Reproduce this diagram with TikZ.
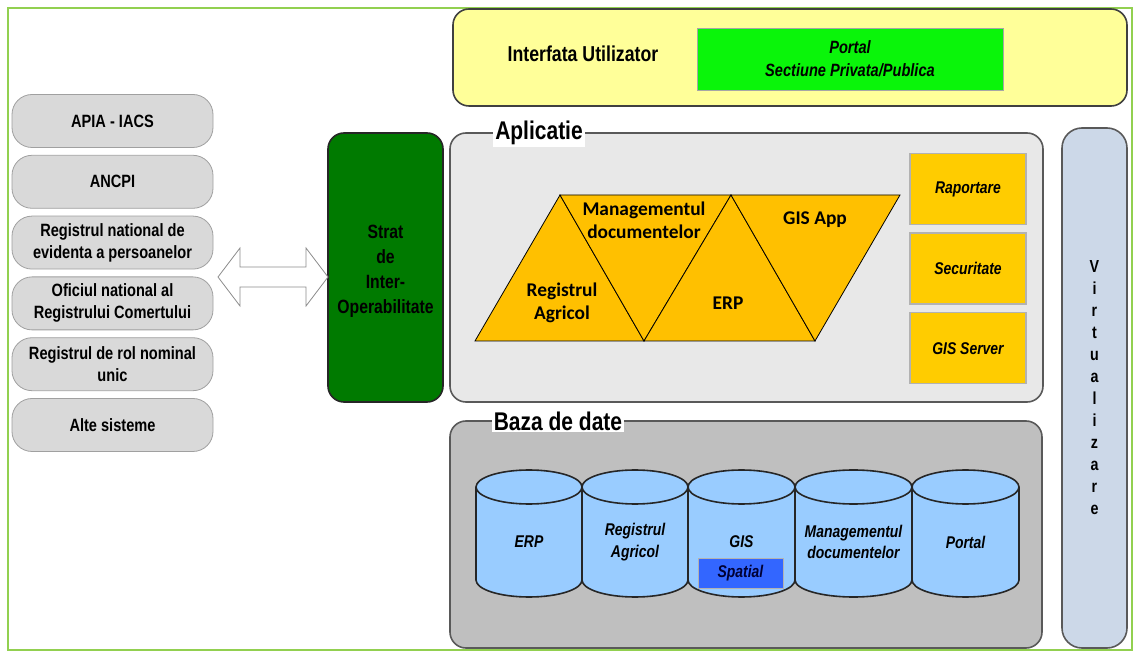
\documentclass[tikz,border=0pt]{standalone}
\usepackage{fontspec}
\setsansfont[FakeStretch=0.82]{Liberation Sans}
\newfontfamily\trifont{Carlito}
\usetikzlibrary{calc, positioning}

\definecolor{framegreen}{RGB}{146,208,80}
\definecolor{pillgray}{RGB}{217,217,217}
\definecolor{pillline}{RGB}{160,160,160}
\definecolor{uiyellow}{RGB}{255,255,153}
\definecolor{portalgreen}{RGB}{10,245,10}
\definecolor{appgray}{RGB}{232,232,232}
\definecolor{dbgray}{RGB}{191,191,191}
\definecolor{stratgreen}{RGB}{0,122,0}
\definecolor{triorange}{RGB}{255,192,0}
\definecolor{svcyellow}{RGB}{255,204,0}
\definecolor{virtblue}{RGB}{204,216,232}
\definecolor{cylblue}{RGB}{153,204,255}
\definecolor{spatialblue}{RGB}{51,102,255}
\definecolor{boxline}{RGB}{89,89,89}

\begin{document}
\begin{tikzpicture}[
    x=0.5pt, y=-0.5pt,
    font=\sffamily\bfseries,
    node distance=3.5pt,
    pill/.style={draw=pillline, fill=pillgray, rounded corners=10pt,
        minimum width=100.5pt, minimum height=26.5pt, inner sep=1pt,
        align=center, font=\sffamily\bfseries\fontsize{8.9}{11}\selectfont},
    layer/.style={draw=boxline, thick, rounded corners=8pt, inner sep=0pt},
    svcbox/.style={draw=black!30, thick, fill=svcyellow, minimum width=58pt,
        minimum height=35.5pt, inner sep=1pt,
        font=\sffamily\bfseries\itshape\fontsize{8.5}{10.5}\selectfont},
    tri/.style={draw=black, fill=triorange, line join=miter},
    tritext/.style={align=center, inner sep=0pt,
        font=\trifont\bfseries\fontsize{9.7}{11.5}\selectfont},
    drum/.style={draw=black!85, fill=cylblue, thick},
    cyltext/.style={align=center, inner sep=0pt,
        font=\sffamily\bfseries\itshape\fontsize{8.5}{10.9}\selectfont},
    caption/.style={fill=white, inner sep=1pt,
        font=\sffamily\bfseries\fontsize{12.8}{14}\selectfont},
    linkarrow/.style={draw=black!45, fill=white, line join=miter}
]
\useasboundingbox (0,0) rectangle (1137,652);

% outer frame
\draw[framegreen, line width=1.2pt] (8,8) rectangle (1132,650);

% external systems
\node[pill] (apia) at (112.5,121) {APIA - IACS};
\node[pill] (ancpi) [below=of apia] {ANCPI};
\node[pill] (rnep) [below=of ancpi] {Registrul national de\\evidenta a persoanelor};
\node[pill] (onrc) [below=of rnep] {Oficiul national al\\Registrului Comertului};
\node[pill] (rnu) [below=of onrc] {Registrul de rol nominal\\unic};
\node[pill] (alte) [below=of rnu] {Alte sisteme};

% interoperability layer
\node[layer, fill=stratgreen, draw=black!85, minimum width=57.5pt,
      minimum height=134.5pt] (strat) at (385.5,267.5) {};
\node[align=center, inner sep=0pt,
      font=\sffamily\bfseries\fontsize{9.6}{12.5}\selectfont]
      (strattext) at (385.5,271) {Strat\\de\\Inter-\\Operabilitate};

% double arrow between systems and layer
\coordinate (lk) at (273,277);
\draw[linkarrow] ($(lk)+(-55,0)$) -- ++(22,-29) -- ++(0,19) -- ++(66,0)
    -- ++(0,-19) -- ++(22,29) -- ++(-22,29) -- ++(0,-19) -- ++(-66,0)
    -- ++(0,19) -- cycle;

% user interface
\node[layer, fill=uiyellow, draw=black!75, minimum width=337pt,
      minimum height=48.5pt] (ui) at (790,57.5) {};
\node[font=\sffamily\bfseries\fontsize{10.8}{12}\selectfont] (uitext) at (583,54)
      {Interfata Utilizator};
\node[draw=black!35, fill=portalgreen, minimum width=153pt, minimum height=31pt,
      align=center, inner sep=0pt,
      font=\sffamily\bfseries\itshape\fontsize{8.9}{11.3}\selectfont]
      (portal) at (850,59) {Portal\\Sectiune Privata/Publica};

% application layer
\node[layer, fill=appgray, minimum width=296.5pt, minimum height=134.5pt]
      (app) at (746.5,267.5) {};
\node[caption] (applabel) at (539,133) {Aplicatie};

\coordinate (t1) at (560,195);
\coordinate (t2) at (731,195);
\coordinate (t3) at (900,195);
\coordinate (b1) at (475,341);
\coordinate (b2) at (644,341);
\coordinate (b3) at (815,341);
\filldraw[tri] (b1) -- (t1) -- (b2) -- cycle;
\filldraw[tri] (t1) -- (t2) -- (b2) -- cycle;
\filldraw[tri] (b2) -- (t2) -- (b3) -- cycle;
\filldraw[tri] (t2) -- (t3) -- (b3) -- cycle;
\node[tritext] (regagr) at (562,303) {Registrul\\Agricol};
\node[tritext] (mgdoc) at (644,220) {Managementul\\documentelor};
\node[tritext] (erp) at (728,303) {ERP};
\node[tritext] (gisapp) at (815,220) {GIS App};

\node[svcbox] (rap) at (968,189) {Raportare};
\node[svcbox] (sec) [below=of rap] {Securitate};
\node[svcbox] (gissrv) [below=of sec] {GIS Server};

% virtualization
\node[layer, fill=virtblue, rounded corners=10pt, minimum width=32.5pt,
      minimum height=260pt, align=center,
      font=\sffamily\bfseries\fontsize{8.7}{11}\selectfont]
      (virt) at (1094.5,388) {V\\i\\r\\t\\u\\a\\l\\i\\z\\a\\r\\e};

% database layer
\node[layer, fill=dbgray, minimum width=296pt, minimum height=113.5pt]
      (db) at (746,534.5) {};
\node[caption] (dblabel) at (558,421) {Baza de date};

% drums: centre x / half width
\foreach \cx/\rx in {529/53, 635/53, 741.5/53.5, 853.5/58.5, 965.5/53.5} {
  \filldraw[drum] (\cx-\rx,487) -- (\cx-\rx,580)
      arc[start angle=180, end angle=360, x radius=\rx*0.5pt, y radius=8.5pt]
      -- (\cx+\rx,487)
      arc[start angle=0, end angle=180, x radius=\rx*0.5pt, y radius=8.5pt]
      -- cycle;
  \draw[drum, fill=none] (\cx-\rx,487)
      arc[start angle=180, end angle=360, x radius=\rx*0.5pt, y radius=8.5pt];
}
\node[cyltext] (dberp) at (529,542) {ERP};
\node[cyltext] (dbreg) at (635,542) {Registrul\\Agricol};
\node[cyltext] (dbgis) at (741.5,542) {GIS};
\node[cyltext] (dbmgd) at (853.5,542) {Managementul\\documentelor};
\node[cyltext] (dbport) at (965.5,542) {Portal};
\node[draw=black!30, fill=spatialblue, minimum width=42.5pt, minimum height=15pt,
      inner sep=0pt, text=black!80!blue,
      font=\sffamily\bfseries\itshape\fontsize{8.5}{10}\selectfont]
      (spatial) at (740.5,573) {Spatial};

\end{tikzpicture}
\end{document}
